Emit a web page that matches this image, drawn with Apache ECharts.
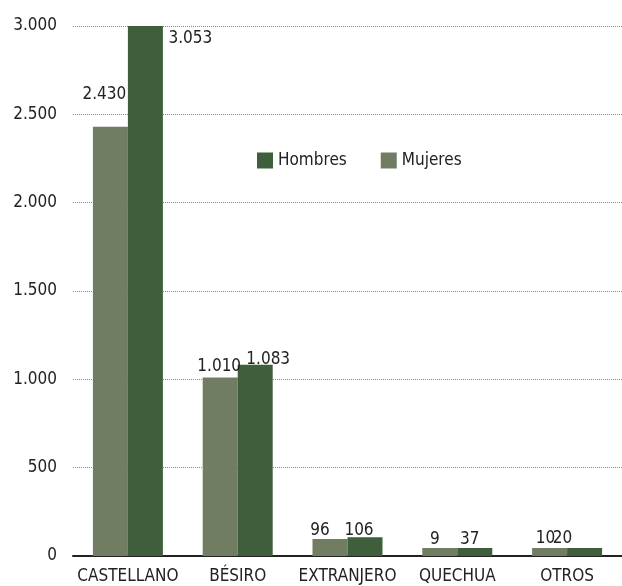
<!DOCTYPE html>
<html>
<head>
<meta charset="utf-8">
<script src="https://cdn.jsdelivr.net/npm/echarts@6/dist/echarts.min.js"></script>
<style>
html,body{margin:0;padding:0;background:#fff;}
#chart{width:622px;height:586px;}
</style>
</head>
<body>
<div id="chart"></div>
<script>
const categories = ['CASTELLANO', 'BÉSIRO', 'EXTRANJERO', 'QUECHUA', 'OTROS'];
const mujeres = [2430, 1010, 96, 9, 10];
const hombres = [3053, 1083, 106, 37, 20];
const yMin = 0, yMax = 3000, yStep = 500;

// label nudges (style only)
const mujeresLabelOffsets = [[-6, -24], [-1, -2], [-10, 0], [-5, 0], [-4, -1]];
const hombresLabelOffsets = [[45, 21], [13, 3], [-6, 2], [-5, 0], [-22, -1]];

const FONT = '"DejaVu Sans Condensed", "Liberation Sans Narrow", sans-serif';
const FS = 17;
function fmt(v) {
  return String(v).replace(/\B(?=(\d{3})+(?!\d))/g, '.');
}
function withLabels(values, offsets) {
  return values.map((v, i) => ({
    value: v,
    label: { offset: offsets[i] }
  }));
}

const chart = echarts.init(document.getElementById('chart'), null, {renderer: 'canvas'});
chart.setOption({
  animation: false,
  backgroundColor: '#ffffff',
  textStyle: { fontFamily: FONT },
  grid: { left: 73, right: -10, top: 26, bottom: 30, containLabel: false },
  legend: {
    data: ['Hombres', 'Mujeres'],
    left: 257, top: 152, padding: 0,
    icon: 'rect', itemWidth: 16, itemHeight: 16, itemGap: 34,
    textStyle: { fontFamily: FONT, fontSize: FS, color: '#222' }
  },
  xAxis: {
    type: 'category',
    data: categories,
    axisLine: { lineStyle: { color: '#222', width: 2 } },
    axisTick: { show: false },
    axisLabel: { interval: 0, fontFamily: FONT, fontSize: FS, color: '#222', margin: 12 }
  },
  yAxis: {
    type: 'value',
    min: yMin, max: yMax, interval: yStep,
    axisLine: { show: false },
    axisTick: { show: false },
    splitLine: { lineStyle: { type: 'dotted', color: '#8a8a8a', width: 1 } },
    axisLabel: { fontFamily: FONT, fontSize: FS, color: '#222', margin: 16, formatter: fmt }
  },
  series: [
    {
      name: 'Mujeres', type: 'bar', barWidth: 35, barGap: '0%', barMinHeight: 8,
      clip: true,
      itemStyle: { color: '#707d62' },
      label: { show: true, position: 'top', distance: 0, fontFamily: FONT, fontSize: FS, color: '#222',
        formatter: p => fmt(p.value) },
      data: withLabels(mujeres, mujeresLabelOffsets)
    },
    {
      name: 'Hombres', type: 'bar', barWidth: 35, barGap: '0%', barMinHeight: 8,
      clip: true,
      itemStyle: { color: '#3e5e3c' },
      label: { show: true, position: 'top', distance: 0, fontFamily: FONT, fontSize: FS, color: '#222',
        formatter: p => fmt(p.value) },
      data: withLabels(hombres, hombresLabelOffsets)
    }
  ]
});
</script>
</body>
</html>
